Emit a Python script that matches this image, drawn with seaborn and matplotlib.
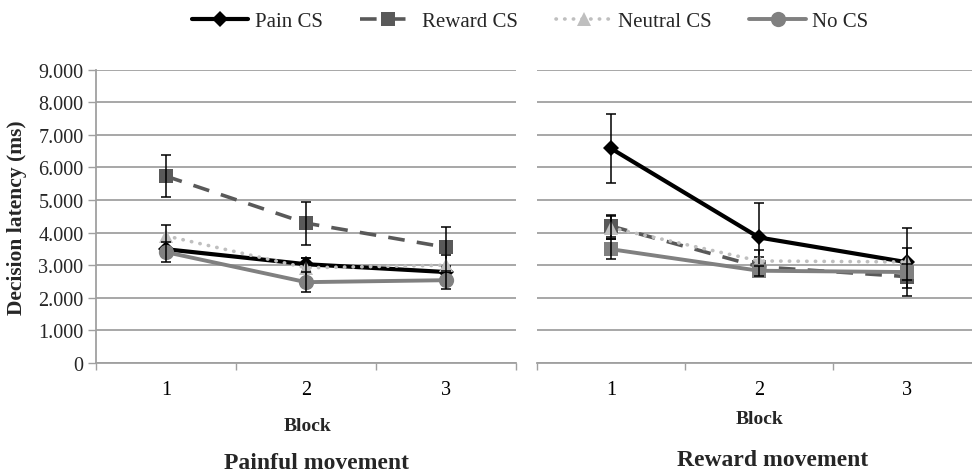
import matplotlib
matplotlib.use('Agg')
import seaborn as sns
import pandas as pd
import numpy as np
import matplotlib.pyplot as plt
from matplotlib.ticker import FuncFormatter, FixedLocator

# block numbers on the x axis
blocks = [1, 2, 3]
series_names = ["Pain CS", "Reward CS", "Neutral CS", "No CS"]

# painful movement panel (ms)
pain_pm = [3490, 3030, 2790]
reward_pm = [5730, 4290, 3550]
neutral_pm = [3900, 2920, 3000]
nocs_pm = [3400, 2480, 2540]
pain_pm_err = [250, 200, 200]
reward_pm_err = [650, 660, 620]
neutral_pm_err = [330, 300, 300]
nocs_pm_err = [300, 300, 280]

# reward movement panel (ms)
pain_rm = [6580, 3850, 3090]
reward_rm = [4200, 2950, 2650]
neutral_rm = [4150, 3130, 3100]
nocs_rm = [3490, 2830, 2790]
pain_rm_err = [1060, 1050, 1040]
reward_rm_err = [330, 300, 350]
neutral_rm_err = [350, 340, 420]
nocs_rm_err = [300, 150, 250]

y_ticks = [0, 1000, 2000, 3000, 4000, 5000, 6000, 7000, 8000, 9000]


def main():
    sns.set_theme(style="white")
    plt.rcParams['font.family'] = ['Liberation Serif', 'DejaVu Serif']

    fig = plt.figure(figsize=(9.72, 4.77), dpi=100)
    ax_l = fig.add_axes([0.0988, 0.2369, 0.4321, 0.6151])
    ax_r = fig.add_axes([0.5525, 0.2369, 0.4568, 0.6151])

    grid_col = '#A0A0A0'

    styles = {
        "Pain CS": dict(color='black', marker='D', markersize=8.5, linewidth=3.0, linestyle='-'),
        "Reward CS": dict(color='#595959', marker='s', markersize=9.5, linewidth=2.6, linestyle=(0, (4.6, 3.4))),
        "Neutral CS": dict(color='#BFBFBF', marker='^', markersize=10, linewidth=2.6, linestyle=(0, (0.1, 2.3)),
                           dash_capstyle='round'),
        "No CS": dict(color='#808080', marker='o', markersize=11, linewidth=2.8, linestyle='-'),
    }

    panels = [
        (ax_l, [pain_pm, reward_pm, neutral_pm, nocs_pm],
         [pain_pm_err, reward_pm_err, neutral_pm_err, nocs_pm_err], 'o'),
        (ax_r, [pain_rm, reward_rm, neutral_rm, nocs_rm],
         [pain_rm_err, reward_rm_err, neutral_rm_err, nocs_rm_err], 's'),
    ]

    for ax, vals, errs, nocs_marker in panels:
        for name, v, e in zip(series_names, vals, errs):
            kw = dict(styles[name])
            if name == "No CS":
                kw['marker'] = nocs_marker
                if nocs_marker == 's':
                    kw['markersize'] = 10
            df = pd.DataFrame({'Block': blocks, 'latency': v})
            sns.lineplot(data=df, x='Block', y='latency', ax=ax, label=name,
                         markeredgewidth=0, errorbar=None, zorder=2, **kw)
            ax.errorbar(blocks, v, yerr=e, fmt='none', ecolor='black',
                        elinewidth=1.1, capsize=3.4, capthick=1.1, zorder=2)

        ax.set_xlim(0.5, 3.5)
        ax.set_ylim(0, 9000)
        ax.set_yticks(y_ticks)
        ax.yaxis.grid(True, color=grid_col, linewidth=1.3)
        ax.set_axisbelow(True)
        ax.set_xticks(blocks)
        ax.set_xticklabels(['1', '2', '3'])
        ax.xaxis.set_minor_locator(FixedLocator([0.5, 1.5, 2.5, 3.5]))
        ax.tick_params(axis='x', which='major', length=0, labelsize=14.5, pad=12, colors='black')
        ax.tick_params(axis='x', which='minor', bottom=True, length=5, width=1, color=grid_col)
        ax.set_xlabel('')
        ax.set_ylabel('')
        for s in ['top', 'right']:
            ax.spines[s].set_visible(False)
        ax.spines['bottom'].set_color(grid_col)
        ax.spines['bottom'].set_linewidth(1.3)
        ax.get_legend().remove()

    ax_l.spines['left'].set_color(grid_col)
    ax_l.spines['left'].set_linewidth(1.3)
    ax_l.yaxis.set_major_formatter(FuncFormatter(lambda v, p: f"{int(v):,}".replace(",", ".")))
    ax_l.tick_params(axis='y', left=True, length=6, width=1, color=grid_col, labelsize=14.5, pad=3)
    ax_r.spines['left'].set_visible(False)
    ax_r.tick_params(axis='y', left=False, labelleft=False)

    fig.text(0.018, 1 - 218 / 477, 'Decision latency (ms)', rotation=90, ha='center', va='center',
             fontsize=15.5, fontweight='bold')
    fig.text(308 / 972, 1 - 427 / 477, 'Block', ha='center', va='center', fontsize=14, fontweight='bold')
    fig.text(760 / 972, 1 - 420 / 477, 'Block', ha='center', va='center', fontsize=14, fontweight='bold')
    fig.text(317 / 972, 1 - 464 / 477, 'Painful movement', ha='center', va='center', fontsize=17, fontweight='bold')
    fig.text(773 / 972, 1 - 461 / 477, 'Reward movement', ha='center', va='center', fontsize=17, fontweight='bold')

    handles, labels = ax_l.get_legend_handles_labels()
    fig.legend(handles, labels, loc='center', bbox_to_anchor=(530 / 972, 1 - 22 / 477), ncol=4,
               frameon=False, fontsize=15, handlelength=2.7, handletextpad=0.3, columnspacing=1.8)

    plt.savefig('out.png', dpi=100)


if __name__ == "__main__":
    main()
